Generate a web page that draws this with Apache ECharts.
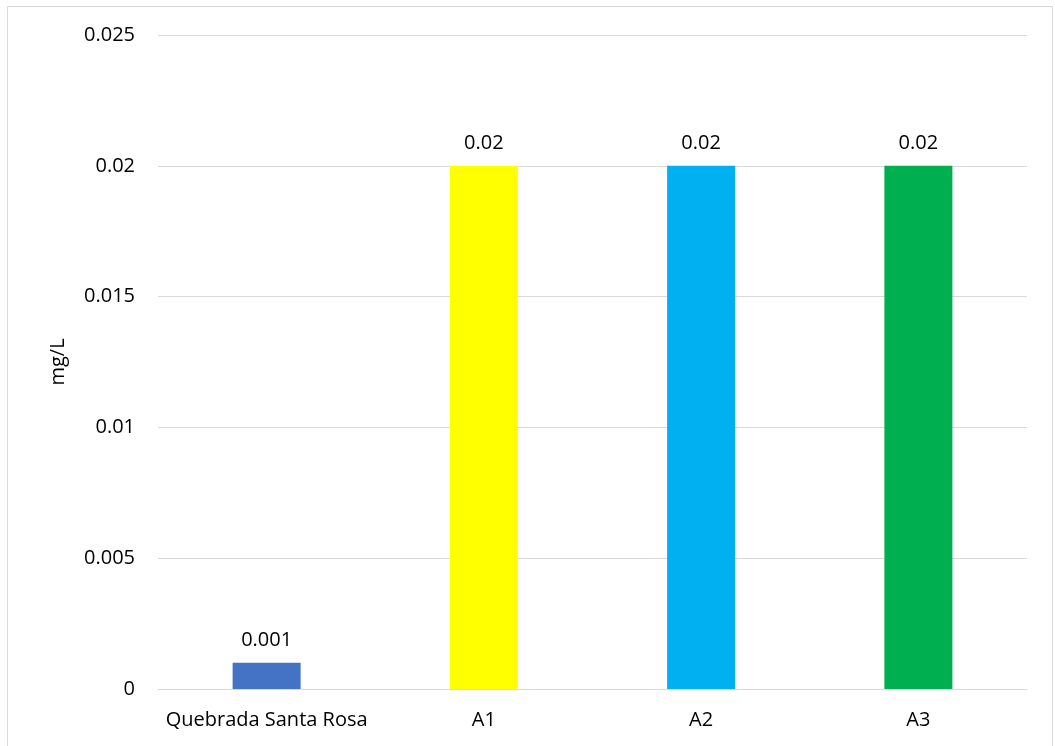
<!DOCTYPE html>
<html><head><meta charset="utf-8">
<script src="https://cdn.jsdelivr.net/npm/echarts@6/dist/echarts.min.js"></script>
<style>html,body{margin:0;padding:0;background:#fff}#c{width:1055px;height:746px}</style>
</head><body><div id="c"></div>
<script>
const categories = ['Quebrada Santa Rosa', 'A1', 'A2', 'A3'];
const values = [0.001, 0.02, 0.02, 0.02];
const barColors = ['#4472C4', '#FFFF00', '#00B0F0', '#00B050'];
const yTicks = [0, 0.005, 0.01, 0.015, 0.02, 0.025];
const yName = 'mg/L';

const FONT = 'Open Sans';
const chart = echarts.init(document.getElementById('c'), null, {renderer: 'canvas'});
chart.setOption({
  animation: false,
  backgroundColor: '#fff',
  graphic: [{type: 'rect', shape: {x: 7.5, y: 6.5, width: 1045, height: 760}, style: {fill: 'none', stroke: '#d9d9d9', lineWidth: 1}, z: -1}],
  grid: {left: 158, right: 28, top: 35, bottom: 57, containLabel: false},
  xAxis: {
    type: 'category', data: categories,
    axisLine: {show: true, lineStyle: {color: '#d9d9d9', width: 1}},
    axisTick: {show: false},
    axisLabel: {interval: 0, color: '#000', fontFamily: FONT, fontSize: 20, margin: 21}
  },
  yAxis: {
    type: 'value', min: yTicks[0], max: yTicks[yTicks.length - 1], interval: 0.005,
    name: yName, nameLocation: 'middle', nameGap: 90, nameRotate: 90,
    nameTextStyle: {color: '#000', fontFamily: FONT, fontSize: 20},
    axisLine: {show: false}, axisTick: {show: false},
    splitLine: {lineStyle: {color: '#d9d9d9', width: 1}},
    axisLabel: {color: '#000', fontFamily: FONT, fontSize: 20, margin: 23,
      formatter: v => { const t = yTicks.find(x => Math.abs(x - v) < 1e-9); return String(t !== undefined ? t : v); }}
  },
  series: [{
    type: 'bar', barWidth: 68,
    data: values.map((v, i) => ({value: v, itemStyle: {color: barColors[i]}})),
    label: {show: true, position: 'top', distance: 13, color: '#000', fontFamily: FONT, fontSize: 20,
      formatter: p => String(p.value)}
  }]
});
</script></body></html>
